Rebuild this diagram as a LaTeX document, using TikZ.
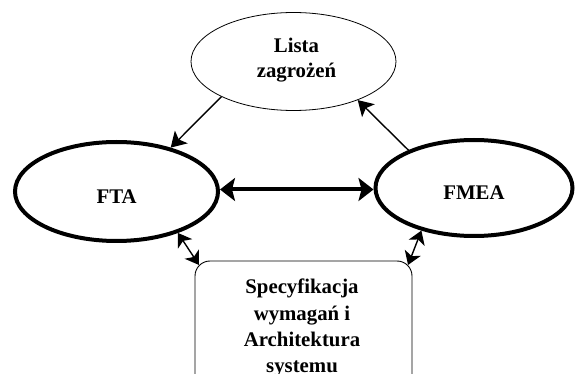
\documentclass[tikz,border=0pt]{standalone}
\usepackage{fontspec}
\setmainfont{Liberation Serif}
\usetikzlibrary{arrows.meta,shapes.geometric}

\tikzset{
  thinoval/.style={ellipse, draw, line width=0.8pt, inner sep=0pt},
  thickoval/.style={ellipse, draw, line width=4pt, inner sep=0pt},
  specbox/.style={rectangle, draw, line width=0.9pt, rounded corners=15pt, inner sep=0pt},
  caption/.style={font=\fontsize{20.8}{25}\selectfont\bfseries, inner sep=0pt, align=center},
  smallhead/.tip={Stealth[length=13pt,width=17pt,inset=3.5pt]},
  thinarrow/.style={line width=1.4pt, -{Stealth[length=15pt,width=18pt,inset=3.5pt]}},
  thinboth/.style={line width=1.4pt, smallhead-smallhead},
  thickboth/.style={line width=4pt, {Stealth[length=15pt,width=23pt,inset=3pt]}-{Stealth[length=15pt,width=23pt,inset=3pt]}}
}

\begin{document}
\begin{tikzpicture}[x=1pt,y=-1pt]
  \useasboundingbox (0,0) rectangle (576,374);
  \clip (0,0) rectangle (576,374);

  % the four blocks
  \node[thinoval, minimum width=205pt, minimum height=98pt] (lista) at (293.5,61.5) {};
  \node[thickoval, minimum width=203pt, minimum height=99pt] (fta) at (116.5,191.5) {};
  \node[thickoval, minimum width=197pt, minimum height=96pt] (fmea) at (474,188) {};
  \node[specbox, minimum width=217pt, minimum height=134pt] (spec) at (303.5,328) {};

  % their labels
  \node[caption, anchor=north] (listatxt) at (296.5,38) {Lista\\zagrożeń};
  \node[caption, anchor=base] (ftatxt) at (116.7,204) {FTA};
  \node[caption, anchor=base] (fmeatxt) at (474,199.3) {FMEA};
  \node[caption, anchor=north, font=\fontsize{20.8}{26.3}\selectfont\bfseries] (spectxt) at (302,279) {Specyfikacja\\wymagań i\\Architektura\\systemu};

  % connections
  \draw[thinarrow] (lista.206) -- (fta.39);
  \draw[thinarrow] (fmea.150) -- (lista.329);
  \draw[thickboth] ([yshift=2pt]fta.east) -- ([yshift=-1.5pt]fmea.west);
  % the lower ends meet the rounded top corners of the box
  \draw[thinboth] (fta.326) -- ([xshift=4.4pt,yshift=-4.4pt]spec.north west);
  \draw[thinboth] (fmea.219) -- ([xshift=-4.4pt,yshift=-4.4pt]spec.north east);
\end{tikzpicture}
\end{document}
